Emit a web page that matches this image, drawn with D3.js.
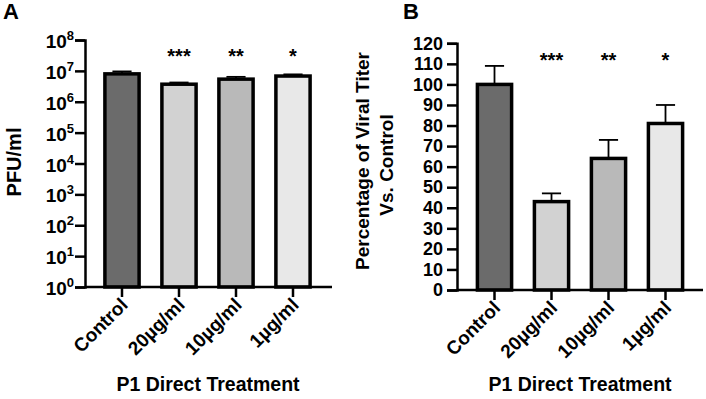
<!DOCTYPE html>
<html>
<head>
<meta charset="utf-8">
<script src="https://cdn.jsdelivr.net/npm/d3@7"></script>
<style>
  body { margin: 0; background: #fff; }
  svg { font-family: "Liberation Sans", Arial, sans-serif; font-weight: bold; }
</style>
</head>
<body>
<svg id="chart" width="706" height="399"></svg>
<script>
const categories = ["Control", "20\u00b5g/ml", "10\u00b5g/ml", "1\u00b5g/ml"];
const fills = ["#6b6b6b", "#d2d2d2", "#b9b9b9", "#e8e8e8"];
const stars = ["", "***", "**", "*"];

// panel A: PFU/ml (log scale)
const pfuMean = [8.0e6, 3.7e6, 5.4e6, 6.8e6];
const pfuErr = [9.6e6, 4.2e6, 6.4e6, 7.7e6];
const pfuTicks = [0, 1, 2, 3, 4, 5, 6, 7, 8];

// panel B: percentage of viral titer vs control
const pctMean = [100, 43, 64, 81];
const pctErr = [109, 47, 73, 90];
const pctTicks = [0, 10, 20, 30, 40, 50, 60, 70, 80, 90, 100, 110, 120];

const svg = d3.select("#chart");

function panel(opts) {
    const g = svg.append("g");
    const x = d3.scaleBand().domain(categories).range(opts.xr).padding(0);
    const bw = x.bandwidth() * 0.6;

    // bars
    g.selectAll("rect.bar").data(categories).join("rect")
        .attr("x", d => x(d) + (x.bandwidth() - bw) / 2)
        .attr("y", (d, i) => opts.y(opts.mean[i]))
        .attr("width", bw)
        .attr("height", (d, i) => opts.y0 - opts.y(opts.mean[i]))
        .attr("fill", (d, i) => fills[i])
        .attr("stroke", "#000")
        .attr("stroke-width", 3.5);

    // error bars (upper only)
    categories.forEach((c, i) => {
        const cx = x(c) + x.bandwidth() / 2;
        const top = opts.y(opts.err[i]);
        const base = opts.y(opts.mean[i]);
        g.append("line").attr("x1", cx).attr("x2", cx)
            .attr("y1", base).attr("y2", top)
            .attr("stroke", "#000").attr("stroke-width", 1.8);
        g.append("line").attr("x1", cx - bw * 0.28).attr("x2", cx + bw * 0.28)
            .attr("y1", top).attr("y2", top)
            .attr("stroke", "#000").attr("stroke-width", 1.8);
        g.append("text").attr("x", cx).attr("y", opts.starY)
            .attr("text-anchor", "middle").attr("font-size", 20)
            .text(stars[i]);
    });

    // y axis
    const ya = g.append("g").attr("class", "yaxis").attr("transform", `translate(${opts.xAxis},0)`)
        .call(opts.yAxis.tickSize(10).tickPadding(4));
    ya.select(".domain").attr("stroke-width", 2.5);
    ya.selectAll(".tick line").attr("stroke-width", 2.5);
    ya.selectAll(".tick text").attr("font-size", 18).attr("font-weight", "bold").attr("fill", "#000");

    // x axis
    const xa = g.append("g").attr("transform", `translate(0,${opts.y0})`)
        .call(d3.axisBottom(x).tickSize(10).tickSizeOuter(0).tickFormat(""));
    xa.select(".domain").attr("stroke-width", 2.5)
        .attr("d", `M${opts.xAxis},0H${opts.xEnd}`);
    xa.selectAll(".tick line").attr("stroke-width", 2.5);

    categories.forEach(c => {
        const cx = x(c) + x.bandwidth() / 2;
        g.append("text")
            .attr("transform", `translate(${cx + 7},${opts.y0 + 19}) rotate(-45)`)
            .attr("text-anchor", "end").attr("font-size", 19)
            .text(c);
    });

    g.append("text").attr("x", opts.titleX).attr("y", 391)
        .attr("text-anchor", "middle").attr("font-size", 19.5)
        .text("P1 Direct Treatment");

    g.append("text").attr("x", opts.letterX).attr("y", 19)
        .attr("font-size", 22).text(opts.letter);
    return g;
}

// panel A
const yA = d3.scaleLog().domain([1, 1e8]).range([287, 40]);
const gA = panel({
    xr: [93.5, 321.5], y: yA, y0: 287, xAxis: 85, xEnd: 332,
    mean: pfuMean, err: pfuErr, starY: 63, titleX: 208, letterX: 3, letter: "A",
    yAxis: d3.axisLeft(yA).tickValues(pfuTicks.map(p => Math.pow(10, p))).tickFormat("")
});
gA.select(".yaxis").selectAll(".tick").each(function (d) {
    const p = Math.round(Math.log10(d));
    const t = d3.select(this).append("text")
        .attr("x", -11).attr("dy", "0.4em")
        .attr("text-anchor", "end").attr("font-size", 19).attr("fill", "#000");
    t.append("tspan").text("10");
    t.append("tspan").attr("font-size", 13).attr("dy", "-0.62em").text(p);
});
gA.append("text").attr("transform", "translate(21,162) rotate(-90)")
    .attr("text-anchor", "middle").attr("font-size", 20).text("PFU/ml");

// panel B
const yB = d3.scaleLinear().domain([0, 120]).range([290, 43.3]);
const gB = panel({
    xr: [466, 694], y: yB, y0: 290, xAxis: 457, xEnd: 703,
    mean: pctMean, err: pctErr, starY: 67, titleX: 580, letterX: 403, letter: "B",
    yAxis: d3.axisLeft(yB).tickValues(pctTicks)
});
gB.append("text").attr("transform", "translate(369,161) rotate(-90)")
    .attr("text-anchor", "middle").attr("font-size", 19).text("Percentage of Viral Titer");
gB.append("text").attr("transform", "translate(393,165) rotate(-90)")
    .attr("text-anchor", "middle").attr("font-size", 19).text("Vs. Control");
</script>
</body>
</html>
